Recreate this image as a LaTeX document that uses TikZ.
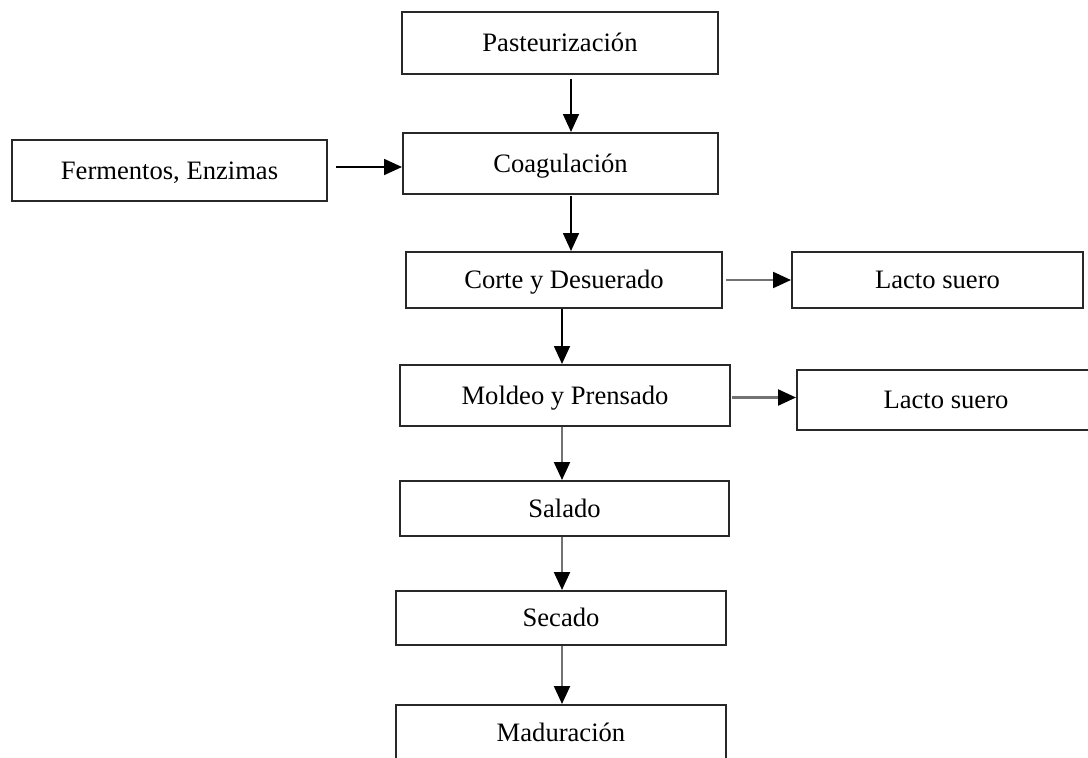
\documentclass[tikz,border=0pt]{standalone}
\usepackage{fontspec}
\setmainfont{Liberation Serif}
\usetikzlibrary{arrows.meta}

\begin{document}
\begin{tikzpicture}[x=1pt, y=-1pt]

  % Colours of the lines
  \definecolor{bordeoscuro}{RGB}{40,40,40}
  \definecolor{grisflecha}{RGB}{115,115,115}

  % Box and arrow styles
  \tikzset{
    caja/.style={draw=bordeoscuro, line width=2pt, rectangle, inner sep=0pt,
      font=\fontsize{26.6}{32}\selectfont, text height=21.3pt, text depth=4.3pt},
    flecha/.style={line width=1.7pt, -{Triangle[length=18pt, width=16pt, color=black]}},
    flechaclara/.style={flecha, line width=2.2pt, draw=grisflecha}
  }

  % Page size (the last box runs off the page)
  \clip (0,0) rectangle (1088,758);

  % Main column
  \node[caja, minimum width=316pt, minimum height=62pt] (past) at (560,43) {Pasteurización};
  \node[caja, minimum width=315pt, minimum height=61pt] (coag) at (560.5,163.5) {Coagulación};
  \node[caja, minimum width=316pt, minimum height=56pt] (corte) at (564,280) {Corte y Desuerado};
  \node[caja, minimum width=330pt, minimum height=61pt] (moldeo) at (565,395.5) {Moldeo y Prensado};
  \node[caja, minimum width=329pt, minimum height=55pt] (salado) at (564.5,508.5) {Salado};
  \node[caja, minimum width=330pt, minimum height=54pt] (secado) at (561,618) {Secado};
  \node[caja, minimum width=330pt, minimum height=56pt] (madura) at (561,733) {Maduración};

  % Side boxes
  \node[caja, minimum width=315pt, minimum height=61pt] (ferm) at (169.5,170.5) {Fermentos, Enzimas};
  \node[caja, minimum width=291pt, minimum height=56pt] (suero1) at (937.5,280) {Lacto suero};
  \node[caja, minimum width=298pt, minimum height=60pt] (suero2) at (946,400) {Lacto suero};

  % Where the arrows run
  \coordinate (ejeA) at (571,0);
  \coordinate (ejeB) at (562,0);
  \coordinate (nivF) at (0,167);
  \coordinate (nivM) at (0,397.5);

  % Arrows
  \draw[flecha, shorten <=4pt] (past.south -| ejeA) -- (coag.north -| ejeA);
  \draw[flecha, shorten <=8pt] (ferm.east |- nivF) -- (coag.west |- nivF);
  \draw[flecha, shorten <=1pt] (coag.south -| ejeA) -- (corte.north -| ejeA);
  \draw[flecha] (corte.south -| ejeB) -- (moldeo.north -| ejeB);
  \draw[flechaclara, shorten <=3pt] (corte.east) -- (suero1.west);
  \draw[flechaclara, shorten <=1pt] (moldeo.east |- nivM) -- (suero2.west |- nivM);
  \foreach \a/\b in {moldeo/salado, salado/secado, secado/madura} {
    \draw[flechaclara] (\a.south -| ejeB) -- (\b.north -| ejeB);
  }
\end{tikzpicture}
\end{document}
